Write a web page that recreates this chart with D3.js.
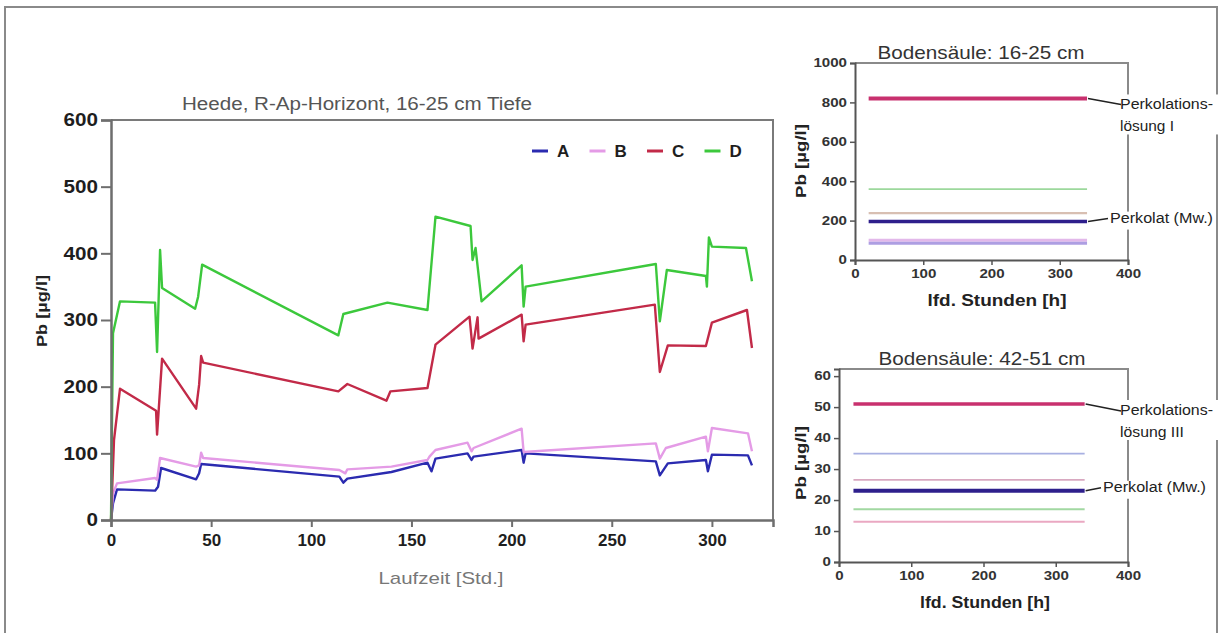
<!DOCTYPE html>
<html>
<head>
<meta charset="utf-8">
<script src="https://cdn.jsdelivr.net/npm/d3@7"></script>
<style>
  body { margin: 0; background: #fff; }
  svg { display: block; font-family: "Liberation Sans", Arial, sans-serif; }
</style>
</head>
<body>
<div id="chart"></div>
<script>
// ---- data ----
var seriesNames = ["A", "B", "C", "D"];
var seriesColors = ["#2b2bb0", "#e49be6", "#c22a48", "#3cc83c"];

// [Laufzeit (Std.), Pb (µg/l)]
var dataA = [[0,0],[1,25],[3,46],[22,44],[23.5,50],[25,78],[42.5,61],[44,70],[45,84],[114,65],[116,56],[118,62],[140,72],[158,86],[160,73],[162,92],[178,100],[180,90],[181,95],[205,105],[206,86],[207,100],[272,88],[274,67],[278,85],[297,90],[298,73],[300,98],[318,97],[320,82]];
var dataB = [[0,0],[1,40],[3,55],[22,63],[23,60],[24.5,93],[42.5,80],[44,82],[45,101],[46,93],[114,75],[117,70],[118,76],[140,80],[158,90],[159,95],[162,105],[178,116],[180,103],[181,108],[205,137],[206,102],[272,115],[274,92],[277,108],[297,125],[298,103],[300,138],[318,130],[320,103]];
var dataC = [[0,0],[1.5,120],[4.5,197],[22.5,164],[23,128],[25.5,242],[42.5,167],[44,203],[45,246],[46,236],[113.5,193],[118,204],[137.5,179],[139.5,193],[158,198],[162,263],[179,305],[180.5,257],[183,304],[183.5,272],[205,308],[206,268],[207,293],[271.5,323],[274,222],[278,262],[297,261],[300,296],[317.5,315],[320,258]];
var dataD = [[0,0],[0.5,150],[1,280],[4.5,328],[22,326],[23,252],[24.5,405],[25.5,348],[42,317],[43.5,335],[45.5,383],[113.5,277],[116,309],[138,326],[158,315],[162,455],[179.5,441],[180.5,390],[182,408],[185,328],[205,382],[206,320],[207,350],[272,384],[274,298],[277.5,375],[297,366],[297.5,350],[298.5,424],[300,410],[317,408],[320,358]];

var mainYTicks = [0, 100, 200, 300, 400, 500, 600];
var mainXTicks = [0, 50, 100, 150, 200, 250, 300];

// small panels: constant levels over the run (from 20 h to 340 h)
var panelHours = [20, 340];
var levels16 = [820, 360, 238, 195, 100, 85];
var colors16 = ["#c8306e", "#9cd89c", "#d8bfb2", "#2e1f8c", "#e2b8ea", "#ad9ee2"];
var widths16 = [4, 1.8, 2.2, 3.5, 3, 3];
var levels42 = [51, 35, 26.5, 23, 17, 13];
var colors42 = ["#c8306e", "#a8b0e2", "#d8a8c0", "#2e1f8c", "#a2d8a2", "#eaa8c2"];
var widths42 = [3.5, 1.8, 1.8, 4, 2, 1.8];
var panelXTicks = [0, 100, 200, 300, 400];
var yTicks16 = [0, 200, 400, 600, 800, 1000];
var yTicks42 = [0, 10, 20, 30, 40, 50, 60];

var W = 1221, H = 633;
var svg = d3.select("#chart").append("svg")
  .attr("width", W).attr("height", H);

// fit a text to a measured width
function fit(sel, w) {
  return sel.attr("textLength", w).attr("lengthAdjust", "spacingAndGlyphs");
}

// outer frame
svg.append("rect")
  .attr("x", 5).attr("y", 7).attr("width", 1212).attr("height", 640)
  .attr("fill", "none").attr("stroke", "#8a8a8a").attr("stroke-width", 2);

// ---------------- main chart ----------------
var m = {left: 111, top: 120, right: 773, bottom: 520};

var x = d3.scaleLinear().domain([0, 330.5]).range([m.left, m.right]);
var y = d3.scaleLinear().domain([0, 600]).range([m.bottom, m.top]);

var main = svg.append("g");

// frame top / right
main.append("path")
  .attr("d", "M" + m.left + "," + m.top + "H" + m.right + "V" + m.bottom)
  .attr("fill", "none").attr("stroke", "#7a7a7a").attr("stroke-width", 2);

var line = d3.line()
  .x(function(d) { return x(d[0]); })
  .y(function(d) { return y(d[1]); });

var allSeries = [dataA, dataB, dataC, dataD];
main.selectAll("path.series")
  .data(allSeries)
  .enter()
  .append("path")
    .attr("class", "series")
    .attr("fill", "none")
    .attr("stroke", function(d, i) { return seriesColors[i]; })
    .attr("stroke-width", 2.4)
    .attr("stroke-linejoin", "round")
    .attr("d", line);

var yAxis = main.append("g")
  .attr("transform", "translate(" + m.left + ",0)")
  .call(d3.axisLeft(y).tickValues(mainYTicks).tickSize(10).tickPadding(3).tickFormat(d3.format("d")));
var xAxis = main.append("g")
  .attr("transform", "translate(0," + m.bottom + ")")
  .call(d3.axisBottom(x).tickValues(mainXTicks).tickSize(7).tickPadding(7).tickFormat(d3.format("d")));

[yAxis, xAxis].forEach(function(a) {
  a.select(".domain").attr("stroke", "#6e6e6e").attr("stroke-width", 2.5);
  a.selectAll(".tick line").attr("stroke", "#6e6e6e").attr("stroke-width", 2);
  a.selectAll(".tick text")
    .attr("font-size", "17px").attr("font-weight", "bold")
    .attr("font-family", "Liberation Sans, Arial, sans-serif")
    .attr("fill", "#1e1e1e");
});
yAxis.selectAll(".tick text").attr("font-size", "18px")
  .each(function(d) { d3.select(this).attr("textLength", String(d).length * 11.5).attr("lengthAdjust", "spacingAndGlyphs"); });

fit(main.append("text")
  .attr("x", 357).attr("y", 110)
  .attr("text-anchor", "middle")
  .attr("font-size", "18px").attr("fill", "#555")
  .text("Heede, R-Ap-Horizont, 16-25 cm Tiefe"), 350);

fit(main.append("text")
  .attr("x", 441).attr("y", 584)
  .attr("text-anchor", "middle")
  .attr("font-size", "17px").attr("fill", "#777")
  .text("Laufzeit [Std.]"), 125);

fit(main.append("text")
  .attr("transform", "translate(47,311) rotate(-90)")
  .attr("text-anchor", "middle")
  .attr("font-size", "15px").attr("font-weight", "bold").attr("fill", "#222")
  .text("Pb [µg/l]"), 72);

// legend
var legend = main.append("g").attr("transform", "translate(532,151)");
legend.selectAll("g")
  .data(seriesNames)
  .enter()
  .append("g")
    .attr("transform", function(d, i) { return "translate(" + (i * 57.5) + ",0)"; })
  .call(function(g) {
    g.append("line")
      .attr("x1", 0).attr("x2", 16)
      .attr("stroke", function(d, i) { return seriesColors[i]; })
      .attr("stroke-width", 3);
    g.append("text")
      .attr("x", 25).attr("y", 6)
      .attr("font-size", "17px").attr("font-weight", "bold")
      .attr("fill", "#1e1e1e")
      .text(function(d) { return d; });
  });

// ---------------- small panels ----------------
function panel(opt) {
  var px = d3.scaleLinear().domain([0, 400]).range([opt.left, opt.right]);
  var py = d3.scaleLinear().domain([0, opt.ymax]).range([opt.bottom, opt.top]);
  var g = svg.append("g");

  g.append("path")
    .attr("d", "M" + opt.left + "," + opt.top + "H" + opt.right + "V" + opt.bottom)
    .attr("fill", "none").attr("stroke", "#8a8a8a").attr("stroke-width", 2);

  g.selectAll("line.level")
    .data(opt.levels)
    .enter()
    .append("line")
      .attr("class", "level")
      .attr("x1", px(panelHours[0])).attr("x2", px(panelHours[1]))
      .attr("y1", function(d) { return py(d); })
      .attr("y2", function(d) { return py(d); })
      .attr("stroke", function(d, i) { return opt.colors[i]; })
      .attr("stroke-width", function(d, i) { return opt.widths[i]; });

  var ya = g.append("g").attr("transform", "translate(" + opt.left + ",0)")
    .call(d3.axisLeft(py).tickValues(opt.yticks).tickSize(5).tickPadding(3).tickFormat(d3.format("d")));
  var xa = g.append("g").attr("transform", "translate(0," + opt.bottom + ")")
    .call(d3.axisBottom(px).tickValues(panelXTicks).tickSize(5).tickPadding(4).tickFormat(d3.format("d")));
  [ya, xa].forEach(function(a) {
    a.select(".domain").attr("stroke", "#555").attr("stroke-width", 2);
    a.selectAll(".tick line").attr("stroke", "#555").attr("stroke-width", 1.5);
    a.selectAll(".tick text")
      .attr("font-size", "12px").attr("font-weight", "bold")
      .attr("font-family", "Liberation Sans, Arial, sans-serif")
      .attr("fill", "#333")
      .each(function(d) { d3.select(this).attr("textLength", String(d).length * 8.4).attr("lengthAdjust", "spacingAndGlyphs"); });
  });

  fit(g.append("text")
    .attr("x", opt.titleX).attr("y", opt.top - 4)
    .attr("text-anchor", "middle")
    .attr("font-size", "19px").attr("fill", "#333")
    .text(opt.title), 207);

  fit(g.append("text")
    .attr("x", opt.xlabX).attr("y", opt.bottom + 46)
    .attr("text-anchor", "middle")
    .attr("font-size", "16px").attr("font-weight", "bold").attr("fill", "#222")
    .text("lfd. Stunden [h]"), opt.xlabW);

  fit(g.append("text")
    .attr("transform", "translate(806," + opt.ylabY + ") rotate(-90)")
    .attr("text-anchor", "middle")
    .attr("font-size", "15px").attr("font-weight", "bold").attr("fill", "#222")
    .text("Pb [µg/l]"), 74);

  // annotations with white backing over the frame
  var top = py(opt.levels[0]), mid = py(opt.levels[3]);
  g.append("rect").attr("x", opt.right - 4).attr("y", top - 4).attr("width", 96).attr("height", 40).attr("fill", "#fff");
  g.append("rect").attr("x", opt.right - 24).attr("y", mid - 10).attr("width", 110).attr("height", 18).attr("fill", "#fff");
  g.append("path")
    .attr("d", "M" + (px(panelHours[1]) + 1) + "," + top + "L" + (opt.right - 7) + "," + (top + opt.ann1dy))
    .attr("stroke", "#222").attr("stroke-width", 1.5).attr("fill", "none");
  g.append("path")
    .attr("d", "M" + (px(panelHours[1]) + 1) + "," + mid + "L" + (opt.right + opt.ann2dx - 2) + "," + (mid - 3))
    .attr("stroke", "#222").attr("stroke-width", 1.5).attr("fill", "none");
  var t1 = g.append("text").attr("font-size", "14px").attr("fill", "#222");
  fit(t1.append("tspan").attr("x", opt.right - 8).attr("y", top + 11).text("Perkolations-"), 93);
  fit(t1.append("tspan").attr("x", opt.right - 8).attr("y", top + 33).text(opt.sol), opt.solW);
  fit(g.append("text").attr("font-size", "14px").attr("fill", "#222")
    .attr("x", opt.right + opt.ann2dx).attr("y", mid + 1)
    .text("Perkolat (Mw.)"), 103);
}

panel({left: 855, right: 1128, top: 63, bottom: 260, ymax: 1000,
  levels: levels16, colors: colors16, widths: widths16, yticks: yTicks16,
  title: "Bodensäule: 16-25 cm", titleX: 981, xlabX: 997, xlabW: 139, ylabY: 161,
  sol: "lösung I", solW: 54, ann1dy: 6, ann2dx: -18});

panel({left: 839, right: 1128, top: 369, bottom: 562, ymax: 62.3,
  levels: levels42, colors: colors42, widths: widths42, yticks: yTicks42,
  title: "Bodensäule: 42-51 cm", titleX: 982, xlabX: 985, xlabW: 130, ylabY: 463,
  sol: "lösung III", solW: 64, ann1dy: 7, ann2dx: -25});
</script>
</body>
</html>
